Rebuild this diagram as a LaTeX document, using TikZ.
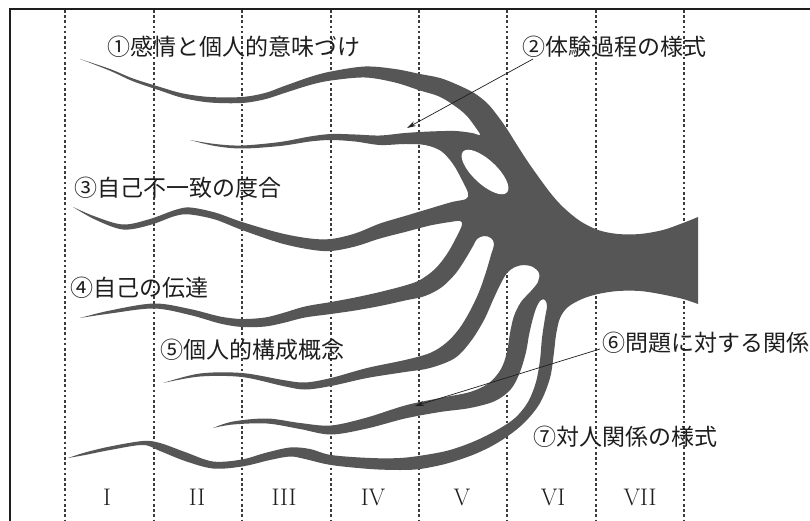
\documentclass[tikz,border=0pt]{standalone}
\usepackage{fontspec}
\newfontfamily\jp{Noto Sans CJK JP}
\usetikzlibrary{arrows.meta}
\definecolor{ink}{RGB}{86,86,86}
\definecolor{txt}{RGB}{30,30,30}
\definecolor{gridc}{RGB}{60,60,60}
\begin{document}
\begin{tikzpicture}[x=1pt,y=-1pt,
  lbl/.style={font=\jp\fontsize{23}{23}\selectfont, text=txt, anchor=west, inner sep=0pt},
  num/.style={font=\fontsize{24}{24}\selectfont, text=txt, inner sep=0pt},
  gridline/.style={gridc, line width=1.2pt, dash pattern=on 2.6pt off 2.6pt},
  arr/.style={line width=0.7pt, txt, -{Stealth[length=9pt,width=5pt]}},
  sm/.style={smooth, tension=0.55}]
\useasboundingbox (0,0) rectangle (810,521);
\clip (0,0) rectangle (810,521);
\fill[white] (0,0) rectangle (810,521);

% column dividers
\foreach \x in {65,154,242,331,419,507,596,684}
  \draw[gridline] (\x,10) -- (\x,521);

% frame
\draw[line width=1.6pt, txt] (10,521) -- (10,9) -- (810,9);

% the branching figure (one closed outline)
\fill[ink]
  plot[sm] coordinates {(80,59) (110,69) (133,78.5) (160,87) (183,93.5) (210,97) (242,97) (265,93) (283,86.5) (310,77) (331,71.5) (365,66.5) (395,69) (420,74) (440,78) (458,85) (474,93) (487,103) (497,115) (507,129) (517,145) (528,162) (540,179) (552,195) (564,208) (580,221) (598,230) (618,234) (640,234) (663,230) (683,223) (698,217)}
  -- plot[sm] coordinates {(698,304) (683,299) (660,294) (640,291) (618,291) (598,294) (582,299) (568,307) (560,318) (556,335) (554,352) (550,378) (540,403) (525,422) (508,436) (490,447) (470,456) (445,464) (420,469) (400,470) (370,469) (331,465) (305,459) (290,456.5) (270,460) (242,466.5) (213,468.5) (185,461) (160,451) (143,445) (110,450) (85,455) (68,458)}
  -- plot[sm] coordinates {(68,458) (85,452.5) (110,446.5) (143,441) (160,443) (185,452) (213,461.5) (242,459.5) (265,453) (290,447.5) (310,449) (331,455) (370,458) (400,458) (425,455) (450,450) (475,441) (497,430) (515,418) (528,402) (536,382) (540,360) (542,338) (545,318) (547,306) (545,300) (541,300) (537,306) (533,318) (529,335) (526,352) (520,372) (511,389) (495,401) (470,408) (440,412) (405,418.5) (367,428.5) (331,434.5) (300,429) (267,423.5) (233,424.5) (213,428)}
  -- plot[sm] coordinates {(213,428) (233,421.5) (267,418.5) (300,423) (331,425.5) (367,417.5) (405,405.5) (440,398) (470,392) (489,383) (501,369) (507,352) (510,333) (514,316) (521,302) (531,291) (538,282) (539,273) (533,267) (524,265) (515,267) (507,273) (500,285) (493,300) (484,320) (471,341) (455,358) (430,368) (405,372) (367,378) (331,386) (305,389.5) (283,386) (242,377) (200,376.5) (163,383)}
  -- plot[sm] coordinates {(163,383) (200,373.5) (242,373) (283,380) (305,382.5) (331,378) (367,368) (405,360) (430,353) (446,343) (459,329) (470,311) (479,292) (486,272) (491,255) (494,244) (491,238) (484,236) (477,239) (473,246) (466,258) (456,273) (442,287) (425,296) (405,300.5) (380,306) (355,310.5) (331,314) (305,317.5) (283,323) (265,326.5) (242,327) (220,323.5) (190,315) (154,308.5) (110,313.5) (80,318)}
  -- plot[sm] coordinates {(80,318) (110,310.5) (154,303.5) (190,309) (220,316.5) (242,319) (265,317.5) (283,313) (305,306.5) (331,302) (355,297.5) (380,292) (405,285.5) (420,280) (435,269) (447,254) (456,238) (462,225) (460,221) (450,222) (430,225.5) (405,232) (380,238.5) (355,246.5) (331,251) (310,249.5) (280,243) (242,230) (215,219.5) (190,214.5) (175,216) (150,225) (123,229.5) (95,219.5) (73,207)}
  -- plot[sm] coordinates {(73,207) (95,216.5) (123,224.5) (150,219) (175,210) (190,207.5) (215,212.5) (242,222) (280,233) (310,238.5) (331,239) (355,233.5) (380,223.5) (405,216) (430,208.5) (452,202) (466,199) (468,193) (462,180) (453,164) (441,151) (425,145) (405,144) (380,145) (355,141.5) (331,140) (310,141.5) (280,146) (242,148.5) (215,146) (190,140)}
  -- plot[sm] coordinates {(190,140) (215,144) (242,145.5) (280,142) (310,136.5) (331,134) (355,134.5) (380,135.5) (405,133) (430,131.5) (455,131) (472,133) (480,135) (476,128) (466,115) (452,104) (438,96) (420,90.5) (395,82.5) (365,77.5) (331,80.5) (310,85) (283,93.5) (265,99.25) (242,103) (210,102.5) (183,98) (160,90.5) (133,81.25) (110,70.75) (80,59)}
  -- cycle;

% hole
\fill[white, rotate around={-43:(485,172)}] (485,172) ellipse [x radius=30, y radius=12];

% labels
\node[lbl] (l1) at (107,47) {①感情と個人的意味づけ};
\node[lbl] (l2) at (522,47) {②体験過程の様式};
\node[lbl] (l3) at (74,188) {③自己不一致の度合};
\node[lbl] (l4) at (70,288) {④自己の伝達};
\node[lbl] (l5) at (160,350) {⑤個人的構成概念};
\node[lbl] (l6) at (602,343) {⑥問題に対する関係};
\node[lbl] (l7) at (533,437) {⑦対人関係の様式};

% arrows
\coordinate (s2) at (533,59);
\coordinate (h2) at (407,128);
\draw[arr] (s2) -- (h2);
\coordinate (s6) at (600,349);
\coordinate (h6) at (415,406);
\draw[arr] (s6) -- (h6);

% column numbers
\node[num] (r1) at (107,497) {I};
\node[num] (r2) at (197,497) {II};
\node[num] (r3) at (284,497) {III};
\node[num] (r4) at (373,497) {IV};
\node[num] (r5) at (462,497) {V};
\node[num] (r6) at (553,497) {VI};
\node[num] (r7) at (640,497) {VII};
\end{tikzpicture}
\end{document}
